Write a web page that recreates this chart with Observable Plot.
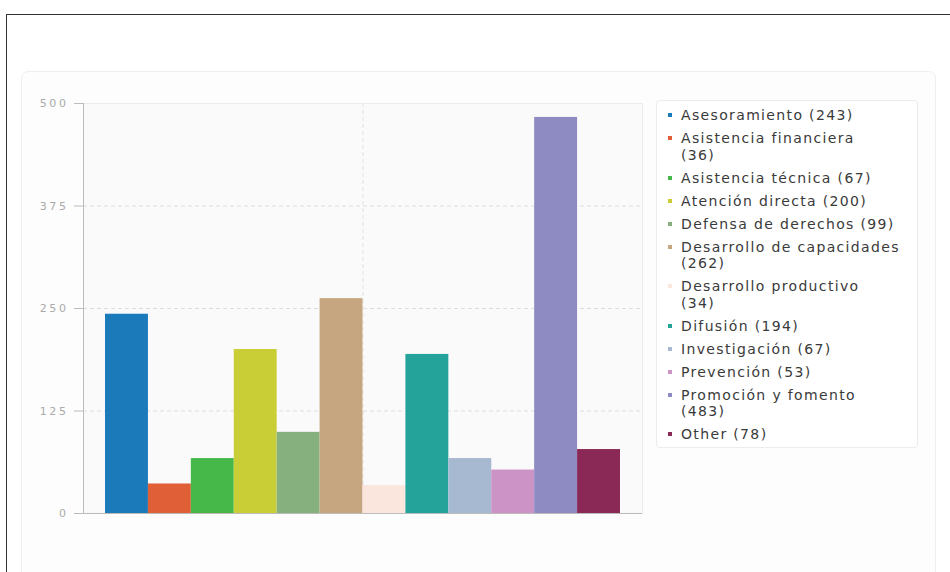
<!DOCTYPE html>
<html>
<head>
<meta charset="utf-8">
<script src="https://cdn.jsdelivr.net/npm/d3@7"></script>
<script src="https://cdn.jsdelivr.net/npm/@observablehq/plot@0.6"></script>
<style>
  html, body { margin: 0; padding: 0; background: #fff; width: 950px; height: 572px; overflow: hidden; }
  body { position: relative; font-family: "DejaVu Sans", sans-serif; }
  #outer { position: absolute; left: 6px; top: 14px; width: 1000px; height: 1000px; border: 1.5px solid #333; box-sizing: border-box; }
  #panel { position: absolute; left: 21px; top: 71px; width: 915px; height: 700px; border: 1px solid #efefef; border-radius: 7px; background: #fdfdfd; box-sizing: border-box; }
  #chart { position: absolute; left: 0; top: 0; }
  #legend { position: absolute; left: 656px; top: 100px; width: 262px; height: 348px; border: 1px solid #ececec; border-radius: 4px; background: #fff; box-sizing: border-box; padding-top: 6px; }
  .item { position: relative; padding-left: 24px; width: 230px; font-size: 14px; line-height: 16.5px; letter-spacing: 1.35px; color: #3a3a3a; margin-bottom: 6.5px; }
  .sw { position: absolute; left: 11px; top: 6px; width: 4px; height: 4px; }
</style>
</head>
<body>
<div id="outer"></div>
<div id="panel"></div>
<div id="chart"></div>
<div id="legend"></div>
<script>
const categories = [
  "Asesoramiento", "Asistencia financiera", "Asistencia técnica", "Atención directa",
  "Defensa de derechos", "Desarrollo de capacidades", "Desarrollo productivo", "Difusión",
  "Investigación", "Prevención", "Promoción y fomento", "Other"
];
const values = [243, 36, 67, 200, 99, 262, 34, 194, 67, 53, 483, 78];
const colors = [
  "#1a7aba", "#e05f36", "#46b84a", "#c9ce36", "#87b07f", "#c6a680",
  "#fbe6dd", "#24a39a", "#a6b9d1", "#cb93c6", "#8e8bc3", "#8b2956"
];
const yTicks = [0, 125, 250, 375, 500];

const data = categories.map((c, i) => ({ c, v: values[i], i }));

const chart = Plot.plot({
  width: 660,
  height: 540,
  marginLeft: 83,
  marginRight: 18,
  marginTop: 103,
  marginBottom: 27,
  x: { domain: [-0.513, categories.length + 0.513], axis: null },
  y: { domain: [0, 500], axis: null, label: null },
  color: { domain: categories, range: colors },
  style: { background: "transparent", fontFamily: "DejaVu Sans" },
  marks: [
    Plot.frame({ fill: "#fafafa", stroke: "#ececec" }),
    Plot.gridY(yTicks.slice(1, -1), { stroke: "#dedede", strokeOpacity: 1, strokeDasharray: "4,3" }),
    Plot.gridX([categories.length / 2], { stroke: "#e2e2e2", strokeOpacity: 1, strokeDasharray: "4,3" }),
    Plot.rectY(data, { x1: "i", x2: d => d.i + 1, y: "v", fill: "c" }),
    Plot.frame({ anchor: "left", stroke: "#bbb" }),
    Plot.ruleY([0], { stroke: "#bbb" }),
    Plot.axisY({
      ticks: yTicks, tickSize: 9, tickPadding: 6, stroke: "#bbb", label: null,
      fill: "#aaa", fontSize: 11, tickFormat: d => String(d)
    })
  ]
});
d3.select(chart).selectAll("g[aria-label='y-axis tick label'] text").style("letter-spacing", "2.6px");
document.getElementById("chart").appendChild(chart);

const legend = d3.select("#legend");
categories.forEach((c, i) => {
  const label = `${c} (${values[i]})`;
  const it = legend.append("div").attr("class", "item");
  it.append("span").attr("class", "sw").style("background", colors[i]);
  const t = it.append("span");
  if (label.length > 24) {
    t.append("span").text(c);
    t.append("br");
    t.append("span").text(`(${values[i]})`);
  } else {
    t.text(label);
  }
});
</script>
</body>
</html>
